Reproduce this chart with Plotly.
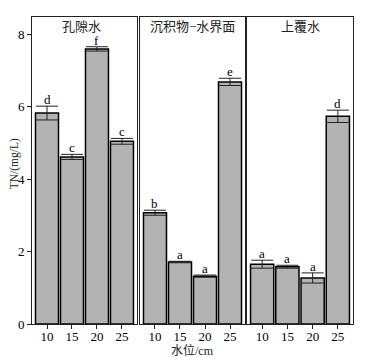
import plotly.graph_objects as go

levels = ["10", "15", "20", "25"]
panels = ["孔隙水", "沉积物−水界面", "上覆水"]
means = [
    [5.82, 4.61, 7.59, 5.04],
    [3.07, 1.71, 1.32, 6.68],
    [1.65, 1.58, 1.27, 5.73],
]
sds = [
    [0.19, 0.07, 0.06, 0.08],
    [0.07, 0.02, 0.03, 0.10],
    [0.11, 0.04, 0.14, 0.17],
]
letters = [
    ["d", "c", "f", "c"],
    ["b", "a", "a", "e"],
    ["a", "a", "a", "d"],
]
y_ticks = [0, 2, 4, 6, 8]

FONT = "Liberation Serif, Times New Roman, Noto Sans CJK SC"
fig = go.Figure()
domains = [[0.0, 0.327], [0.3364, 0.6636], [0.6698, 1.0]]

for i in range(3):
    xa = "x" if i == 0 else f"x{i+1}"
    ya = "y" if i == 0 else f"y{i+1}"
    fig.add_trace(go.Bar(
        x=levels, y=means[i], xaxis=xa, yaxis=ya, width=0.92,
        marker=dict(color="#b3b3b3", line=dict(color="black", width=1.5)),
        error_y=dict(type="data", array=sds[i], visible=True,
                     color="#222", thickness=1, width=11),
        showlegend=False,
    ))
    for j in range(4):
        fig.add_annotation(x=j, y=means[i][j] + sds[i][j], xref=xa, yref=ya,
                           text=letters[i][j], showarrow=False, yanchor="bottom",
                           xanchor="center", yshift=-3,
                           font=dict(size=13, color="black", family=FONT))
    fig.add_annotation(x=(domains[i][0] + domains[i][1]) / 2 - (0.008 if i == 0 else 0),
                       y=1.0, xref="paper", yref="paper", text=panels[i],
                       showarrow=False, yanchor="top", xanchor="center", yshift=0,
                       font=dict(size=13, color="#222", family=FONT))

fig.add_annotation(x=(domains[1][0] + domains[1][1]) / 2, y=0, xref="paper", yref="paper",
                   text="水位/cm", showarrow=False, xanchor="center", yanchor="top",
                   yshift=-17, font=dict(size=12, color="#222", family=FONT))
fig.add_annotation(x=0, y=0.52, xref="paper", yref="paper", text="TN/(mg/L)",
                   showarrow=False, textangle=-90, xanchor="center", yanchor="middle",
                   xshift=-18, font=dict(size=11.5, color="#222", family=FONT))

axis_common = dict(showline=True, mirror=True, linecolor="#222", linewidth=1,
                   showgrid=False, zeroline=False, automargin=False)
layout = dict(
    width=367, height=350,
    margin=dict(l=24, r=22, t=9, b=34),
    plot_bgcolor="white", paper_bgcolor="white",
    font=dict(family=FONT, size=13, color="black"),
    bargap=0.08,
)
for i in range(3):
    xk = "xaxis" if i == 0 else f"xaxis{i+1}"
    yk = "yaxis" if i == 0 else f"yaxis{i+1}"
    layout[xk] = dict(axis_common, domain=domains[i], range=[-0.6, 3.6],
                      anchor="y" if i == 0 else f"y{i+1}",
                      type="category", ticks="outside", ticklen=4, tickcolor="#222",
                      ticklabelstandoff=-4,
                      tickfont=dict(size=13, family=FONT))
    ydict = dict(axis_common, range=[0, 8.47], anchor="x" if i == 0 else f"x{i+1}")
    if i == 0:
        ydict.update(tickvals=y_ticks, ticks="outside", ticklen=4, tickcolor="#222",
                     tickfont=dict(size=13, family=FONT))
    else:
        ydict.update(showticklabels=False, ticks="", matches="y")
    layout[yk] = ydict
fig.update_layout(**layout)
fig.write_html("out.html")
